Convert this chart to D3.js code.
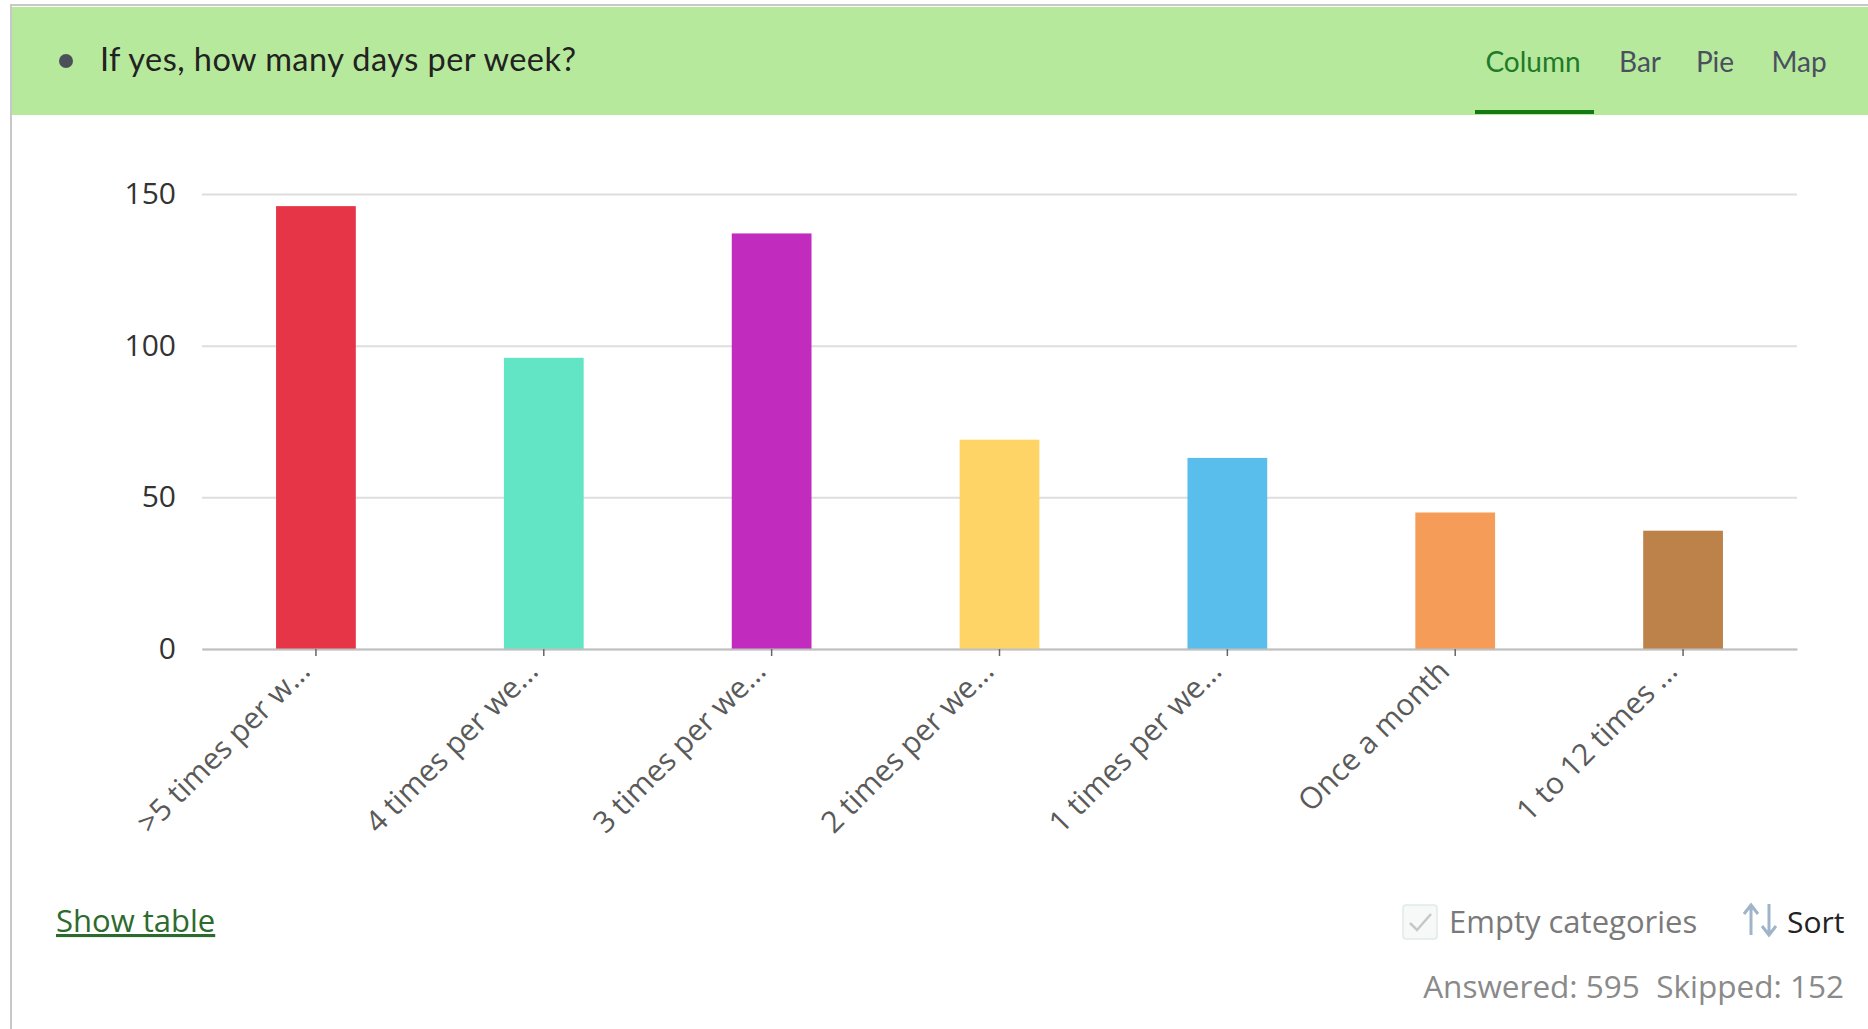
<!DOCTYPE html>
<html>
<head>
<meta charset="utf-8">
<script src="https://cdn.jsdelivr.net/npm/d3@7"></script>
<style>
  html, body { margin: 0; padding: 0; background: #fff; }
  svg { display: block; }
</style>
</head>
<body>
<svg id="chart" width="1868" height="1029"></svg>
<script>
const categories = [">5 times per w...", "4 times per we...", "3 times per we...", "2 times per we...", "1 times per we...", "Once a month", "1 to 12 times ..."];
const counts = [146, 96, 137, 69, 63, 45, 39];
const barColors = ["#e63546", "#62e5c5", "#c12cbe", "#fdd465", "#59beec", "#f59c58", "#bc824a"];
const yTicks = [0, 50, 100, 150];
const tabs = ["Column", "Bar", "Pie", "Map"];
const title = "If yes, how many days per week?";
const answered = 595, skipped = 152;

const svg = d3.select("#chart");
const W = 1868, H = 1029;
const FONT = "'Open Sans', sans-serif";

// frame
svg.append("rect").attr("x", 0).attr("y", 0).attr("width", W).attr("height", H).attr("fill", "#fff");
svg.append("line").attr("x1", 10).attr("x2", W).attr("y1", 5).attr("y2", 5).attr("stroke", "#c8c8c8").attr("stroke-width", 2);
svg.append("line").attr("x1", 11).attr("x2", 11).attr("y1", 5).attr("y2", H).attr("stroke", "#c8c8c8").attr("stroke-width", 2);

// header
svg.append("rect").attr("x", 12).attr("y", 7).attr("width", W - 12).attr("height", 108).attr("fill", "#b7e99c");
svg.append("circle").attr("cx", 66).attr("cy", 61).attr("r", 7).attr("fill", "#4a4f5a");
svg.append("text").attr("x", 100).attr("y", 71).attr("font-family", "Lato, sans-serif").attr("font-size", 32.5)
  .attr("fill", "#222").attr("textLength", 476).attr("lengthAdjust", "spacing").text(title);

const tabX = [1533, 1640, 1715, 1799];
svg.selectAll("text.tab").data(tabs).join("text").attr("class", "tab")
  .attr("x", (d, i) => tabX[i]).attr("y", 72).attr("text-anchor", "middle")
  .attr("font-family", "Lato, sans-serif").attr("font-size", 28)
  .attr("fill", (d, i) => i === 0 ? "#1f7a2a" : "#4a5060").text(d => d);
svg.append("rect").attr("x", 1475).attr("y", 110).attr("width", 119).attr("height", 4).attr("fill", "#137a13");

// chart
const x0 = 202, x1 = 1797, yTop = 194, yBase = 649;
const x = d3.scaleBand().domain(categories).range([x0, x1]).paddingInner(0.65).paddingOuter(0.325);
const y = d3.scaleLinear().domain([0, 150]).range([yBase, yTop]);

const grid = svg.append("g").attr("transform", `translate(${x0},0)`)
  .call(d3.axisLeft(y).tickValues(yTicks).tickSize(-(x1 - x0)).tickPadding(26));
grid.select(".domain").remove();
grid.selectAll(".tick line").attr("stroke", "#dedede").attr("stroke-width", 2);
grid.selectAll(".tick text").attr("font-family", FONT).attr("font-size", 30).attr("fill", "#333");

svg.append("g").selectAll("rect").data(categories).join("rect")
  .attr("x", d => x(d)).attr("width", x.bandwidth())
  .attr("y", (d, i) => y(counts[i])).attr("height", (d, i) => yBase - y(counts[i]))
  .attr("fill", (d, i) => barColors[i]);

const xAxis = svg.append("g").attr("transform", `translate(0,${yBase})`)
  .call(d3.axisBottom(x).tickSize(7).tickSizeOuter(0));
xAxis.select(".domain").attr("stroke", "#c0c0c0").attr("stroke-width", 2);
xAxis.selectAll(".tick line").attr("stroke", "#666").attr("stroke-width", 1.5);
xAxis.selectAll(".tick text")
  .attr("font-family", FONT).attr("font-size", 30).attr("fill", "#5a5a5a")
  .attr("text-anchor", "end").attr("dy", 0).attr("y", 0)
  .attr("transform", "translate(-4,24) rotate(-45)");

// footer
svg.append("text").attr("x", 56).attr("y", 932).attr("font-family", FONT).attr("font-size", 31)
  .attr("fill", "#2d6a2d").attr("text-decoration", "underline").text("Show table");

svg.append("rect").attr("x", 1403).attr("y", 905).attr("width", 34).attr("height", 34).attr("rx", 3)
  .attr("fill", "#f7f9f9").attr("stroke", "#dfeaea").attr("stroke-width", 1.5);
svg.append("path").attr("d", "M1410,923 L1417,930 L1431,914").attr("fill", "none").attr("stroke", "#c4c8c8").attr("stroke-width", 2.5);
svg.append("text").attr("x", 1449).attr("y", 933).attr("font-family", FONT).attr("font-size", 31)
  .attr("fill", "#7a7a7a").text("Empty categories");

// sort icon
const ic = svg.append("g").attr("stroke", "#9fb4c8").attr("stroke-width", 3).attr("fill", "none");
ic.append("path").attr("d", "M1751,935 L1751,906 M1744,914 L1751,905 L1758,914");
ic.append("path").attr("d", "M1769,904 L1769,934 M1762,926 L1769,935 L1776,926");
svg.append("text").attr("x", 1787).attr("y", 933).attr("font-family", FONT).attr("font-size", 30)
  .attr("fill", "#222").text("Sort");

svg.append("text").attr("x", 1844).attr("y", 998).attr("text-anchor", "end").attr("font-family", FONT).attr("font-size", 31.5)
  .attr("fill", "#8a8a8a").attr("xml:space", "preserve").text(`Answered: ${answered}  Skipped: ${skipped}`);
</script>
</body>
</html>
